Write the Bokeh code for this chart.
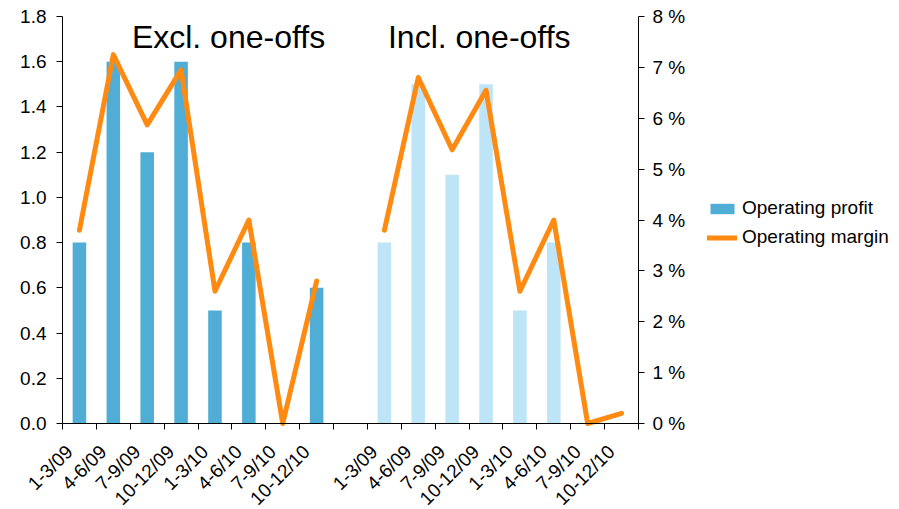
import math
from bokeh.plotting import figure
from bokeh.models import (Range1d, LinearAxis, FixedTicker, PrintfTickFormatter,
                          Label, Legend, LegendItem, ColumnDataSource)
from bokeh.embed import file_html
from bokeh.resources import INLINE

# Quarterly operating profit and margin, shown excluding and including one-offs
quarters = ["1-3/09", "4-6/09", "7-9/09", "10-12/09", "1-3/10", "4-6/10", "7-9/10", "10-12/10"]
profit_excl = [0.8, 1.6, 1.2, 1.6, 0.5, 0.8, 0.0, 0.6]
margin_excl = [3.8, 7.25, 5.87, 6.95, 2.6, 4.0, 0.0, 2.8]
profit_incl = [0.8, 1.5, 1.1, 1.5, 0.5, 0.8, 0.0, 0.0]
margin_incl = [3.8, 6.8, 5.38, 6.55, 2.6, 4.0, 0.0, 0.2]
group_titles = ["Excl. one-offs", "Incl. one-offs"]
left_ticks = [0.0, 0.2, 0.4, 0.6, 0.8, 1.0, 1.2, 1.4, 1.6, 1.8]
right_ticks = [0, 1, 2, 3, 4, 5, 6, 7, 8]
PROFIT_MAX, MARGIN_MAX = 1.8, 8

FONT = "Liberation Sans"
DARK = "#4FADD6"
LIGHT = "#BDE4F7"
ORANGE = "#FF8A12"

# Page geometry (pixels): the plotting area spans the whole canvas and the axes
# are pinned at the edges of the chart body, so labels and legend have room.
W, H = 899, 509
BODY_L, BODY_R, BODY_T, BODY_B = 62, 638, 16, 423

n = len(quarters)
gap = 1
n_slots = 2 * n + gap
x_excl = [i + 0.5 for i in range(n)]
x_incl = [n + gap + i + 0.5 for i in range(n)]

kx = (BODY_R - BODY_L) / n_slots
ky = (BODY_B - BODY_T) / PROFIT_MAX
kp = (BODY_B - BODY_T) / MARGIN_MAX

p = figure(width=W, height=H,
           x_range=Range1d(-BODY_L / kx, n_slots + (W - BODY_R) / kx),
           y_range=Range1d(-(H - BODY_B) / ky, PROFIT_MAX + BODY_T / ky),
           output_backend="svg", toolbar_location=None,
           min_border_left=0, min_border_right=0, min_border_top=0, min_border_bottom=0)
p.outline_line_color = None
p.xgrid.visible = False
p.ygrid.visible = False
p.extra_y_ranges = {"pct": Range1d(-(H - BODY_B) / kp, MARGIN_MAX + BODY_T / kp)}

src_excl = ColumnDataSource(dict(x=x_excl, profit=profit_excl, margin=margin_excl))
src_incl = ColumnDataSource(dict(x=x_incl, profit=profit_incl, margin=margin_incl))

bar_w = 0.4
bars_excl = p.vbar(x="x", top="profit", width=bar_w, source=src_excl, fill_color=DARK, line_color=None)
p.vbar(x="x", top="profit", width=bar_w, source=src_incl, fill_color=LIGHT, line_color=None)

line_kw = dict(line_color=ORANGE, line_width=5, line_join="round", line_cap="round")
line_excl = p.line(x="x", y="margin", source=src_excl, y_range_name="pct", **line_kw)
p.line(x="x", y="margin", source=src_incl, y_range_name="pct", **line_kw)

# Left axis (profit)
yax = p.yaxis[0]
yax.ticker = FixedTicker(ticks=left_ticks)
yax.formatter = PrintfTickFormatter(format="%.1f")
yax.fixed_location = 0
yax.bounds = (0, PROFIT_MAX)

# Right axis (margin, %)
rax = LinearAxis(y_range_name="pct", ticker=FixedTicker(ticks=right_ticks),
                 formatter=PrintfTickFormatter(format="%d %%"),
                 fixed_location=n_slots, bounds=(0, MARGIN_MAX))
p.add_layout(rax, "right")

for ax in (yax, rax):
    ax.axis_line_color = "black"
    ax.major_tick_line_color = "black"
    ax.major_tick_out = 6
    ax.major_tick_in = 0
    ax.minor_tick_line_color = None
    ax.major_label_text_font = FONT
    ax.major_label_text_font_size = "19px"
    ax.major_label_text_color = "black"
yax.major_label_standoff = 10
rax.major_label_standoff = 8

# Category axis: tick marks at slot boundaries, rotated quarter labels per slot
xax = p.xaxis[0]
label_pos = [c - 0.3 for c in x_excl + x_incl]
xax.ticker = FixedTicker(ticks=label_pos, minor_ticks=list(range(n_slots + 1)))
xax.major_label_overrides = {c: q for c, q in zip(label_pos, quarters + quarters)}
xax.major_label_orientation = math.pi / 4
xax.fixed_location = 0
xax.bounds = (0, n_slots)
xax.major_tick_line_color = None
xax.major_tick_out = 6
xax.minor_tick_line_color = "black"
xax.minor_tick_out = 6
xax.minor_tick_in = 0
xax.axis_line_color = "black"
xax.major_label_text_font = FONT
xax.major_label_text_font_size = "19px"
xax.major_label_text_color = "black"
xax.major_label_standoff = 19

# Group headings
for tx, title in zip([4.9, 12.3], group_titles):
    p.add_layout(Label(x=tx, y=1.71, text=title, text_font=FONT, text_font_size="32px",
                       text_align="center", text_baseline="middle", text_color="black"))

legend = Legend(items=[LegendItem(label="Operating profit", renderers=[bars_excl]),
                       LegendItem(label="Operating margin", renderers=[line_excl])],
                location=(707, 261), orientation="vertical",
                border_line_color=None, background_fill_alpha=0,
                padding=0, margin=0, spacing=7,
                glyph_width=30, glyph_height=13, label_height=20, label_standoff=5,
                label_text_font=FONT, label_text_font_size="19px", label_text_color="black")
p.add_layout(legend, "center")

open("out.html", "w").write(file_html(p, INLINE))
